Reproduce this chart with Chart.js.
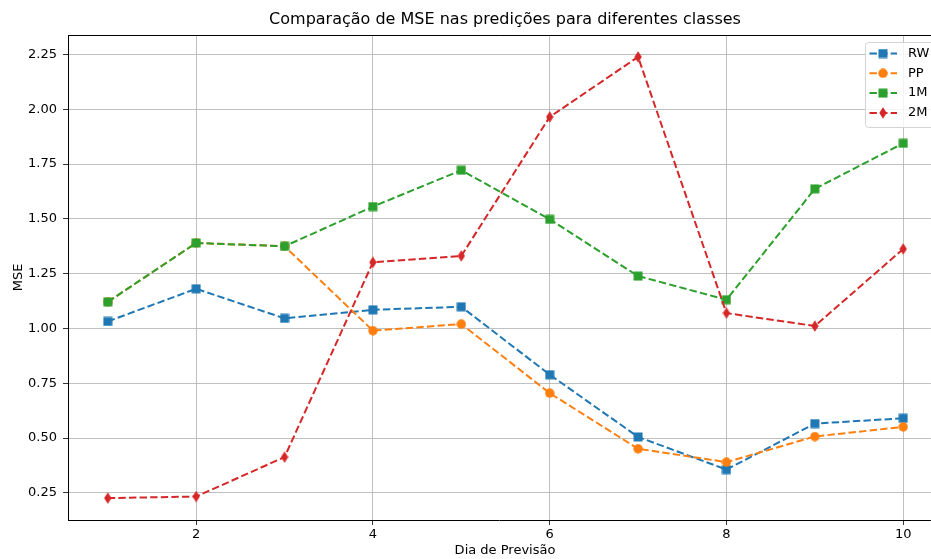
<!DOCTYPE html>
<html>
<head>
<meta charset="utf-8">
<script src="https://cdn.jsdelivr.net/npm/chart.js@4"></script>
<style>
  html, body { margin: 0; padding: 0; background: #fff; }
</style>
</head>
<body>
<canvas id="chart" width="931" height="559"></canvas>
<script>
// dados
const dias = [1, 2, 3, 4, 5, 6, 7, 8, 9, 10];
const mseRW = [1.032, 1.181, 1.046, 1.085, 1.099, 0.789, 0.505, 0.356, 0.566, 0.590];
const msePP = [1.121, 1.390, 1.375, 0.990, 1.020, 0.705, 0.451, 0.390, 0.507, 0.551];
const mse1M = [1.121, 1.390, 1.375, 1.556, 1.722, 1.498, 1.239, 1.131, 1.637, 1.845];
const mse2M = [0.226, 0.233, 0.413, 1.302, 1.331, 1.965, 2.239, 1.070, 1.011, 1.363];
const xTicks = [2, 4, 6, 8, 10];
const yTicks = [0.25, 0.50, 0.75, 1.00, 1.25, 1.50, 1.75, 2.00, 2.25];
const titulo = 'Comparação de MSE nas predições para diferentes classes';
const rotuloX = 'Dia de Previsão';

const FONTE = "'DejaVu Sans', sans-serif";
Chart.defaults.font.family = FONTE;
Chart.defaults.color = '#000';

// marcadores desenhados num canvas pequeno (quadrado, círculo, losango fino)
function marcador(forma, cor) {
  const c = document.createElement('canvas');
  const g = c.getContext('2d');
  if (forma === 'losango') {
    c.width = 8; c.height = 12;
    g.fillStyle = cor;
    g.beginPath();
    g.moveTo(4, 0.3); g.lineTo(7.7, 6); g.lineTo(4, 11.7); g.lineTo(0.3, 6);
    g.closePath();
    g.fill();
  } else {
    c.width = 10; c.height = 10;
    g.fillStyle = cor;
    g.beginPath();
    if (forma === 'quadrado') g.rect(0.5, 0.5, 9, 9);
    else g.arc(5, 5, 4.7, 0, Math.PI * 2);
    g.fill();
  }
  return c;
}

// raio mínimo: a imagem do marcador é desenhada igual, e o layout não reserva margem
function serie(label, valores, cor, forma, ordem) {
  return {
    label: label,
    data: dias.map((d, i) => ({ x: d, y: valores[i] })),
    borderColor: cor,
    backgroundColor: cor,
    borderWidth: 2,
    borderDash: [7.4, 3.2],
    pointStyle: marcador(forma, cor),
    pointRadius: 0.1,
    pointHoverRadius: 0.1,
    pointBorderWidth: 0,
    pointHitRadius: 0,
    tension: 0,
    fill: false,
    order: ordem
  };
}

const fundoBranco = {
  id: 'fundoBranco',
  beforeDraw(chart) {
    const { ctx, width, height } = chart;
    ctx.save();
    ctx.fillStyle = '#fff';
    ctx.fillRect(0, 0, width, height);
    ctx.restore();
  }
};

// os eixos do original passam da borda direita: o centro dos textos fica em x=505
const CENTRO_X = 505;

// moldura de cima, título, rótulo do eixo x e legenda dentro do gráfico
const moldura = {
  id: 'moldura',
  afterDraw(chart) {
    const { ctx, chartArea, height } = chart;
    ctx.save();
    ctx.strokeStyle = '#000';
    ctx.lineWidth = 1;
    ctx.beginPath();
    ctx.moveTo(chartArea.left, chartArea.top + 0.5);
    ctx.lineTo(chartArea.right + 1, chartArea.top + 0.5);
    ctx.stroke();

    ctx.fillStyle = '#000';
    ctx.textAlign = 'center';
    ctx.textBaseline = 'middle';
    ctx.font = '16px ' + FONTE;
    ctx.fillText(titulo, CENTRO_X, 20);
    ctx.font = '13px ' + FONTE;
    ctx.fillText(rotuloX, CENTRO_X, height - 8);

    const x0 = 865, y0 = chartArea.top + 7;
    ctx.beginPath();
    ctx.roundRect(x0 + 0.5, y0 + 0.5, 80, 85, 3);
    ctx.fillStyle = 'rgba(255,255,255,0.8)';
    ctx.fill();
    ctx.strokeStyle = '#d4d4d4';
    ctx.stroke();

    const ordem = ['RW', 'PP', '1M', '2M'];
    ordem.forEach((nome, i) => {
      const ds = chart.data.datasets.find(d => d.label === nome);
      const y = y0 + 11.5 + i * 19.8;
      ctx.setLineDash(ds.borderDash);
      ctx.strokeStyle = ds.borderColor;
      ctx.lineWidth = ds.borderWidth;
      ctx.beginPath();
      ctx.moveTo(x0 + 4.5, y);
      ctx.lineTo(x0 + 32, y);
      ctx.stroke();
      ctx.setLineDash([]);
      const m = ds.pointStyle;
      ctx.drawImage(m, x0 + 18 - m.width / 2, y - m.height / 2);
      ctx.fillStyle = '#000';
      ctx.font = '13px ' + FONTE;
      ctx.textBaseline = 'middle';
      ctx.textAlign = 'left';
      ctx.fillText(nome, x0 + 43, y);
    });
    ctx.restore();
  }
};

new Chart(document.getElementById('chart'), {
  type: 'line',
  data: {
    datasets: [
      serie('RW', mseRW, '#1f77b4', 'quadrado', 4),
      serie('PP', msePP, '#ff7f0e', 'circulo', 3),
      serie('1M', mse1M, '#2ca02c', 'quadrado', 2),
      serie('2M', mse2M, '#d62728', 'losango', 1)
    ]
  },
  options: {
    responsive: false,
    animation: false,
    devicePixelRatio: 1,
    layout: { padding: { top: 35, left: 0, right: 0, bottom: 0 } },
    plugins: {
      legend: { display: false },
      tooltip: { enabled: false },
      title: { display: false }
    },
    scales: {
      x: {
        type: 'linear',
        min: 0.55,
        max: 10.313,
        afterBuildTicks: s => { s.ticks = xTicks.map(v => ({ value: v })); },
        afterFit: s => { s.height = 39; s.paddingLeft = 0; s.paddingRight = 0; },
        ticks: { font: { size: 13 }, color: '#000', padding: 2, maxRotation: 0, autoSkip: false },
        grid: { color: '#b0b0b0', lineWidth: 0.8, tickColor: '#000', tickLength: 5 },
        border: { color: '#000', width: 1 },
        title: { display: false }
      },
      y: {
        min: 0.126,
        max: 2.339,
        afterBuildTicks: s => { s.ticks = yTicks.map(v => ({ value: v })); },
        afterFit: s => { s.width = 68; s.paddingTop = 0; s.paddingBottom = 0; },
        ticks: { font: { size: 13 }, color: '#000', padding: 6, callback: v => v.toFixed(2) },
        grid: { color: '#b0b0b0', lineWidth: 0.8, tickColor: '#000', tickLength: 5 },
        border: { color: '#000', width: 1 },
        title: { display: true, text: 'MSE', font: { size: 13 }, color: '#000', padding: { top: 10.7, bottom: 0 } }
      }
    }
  },
  plugins: [fundoBranco, moldura]
});
</script>
</body>
</html>
